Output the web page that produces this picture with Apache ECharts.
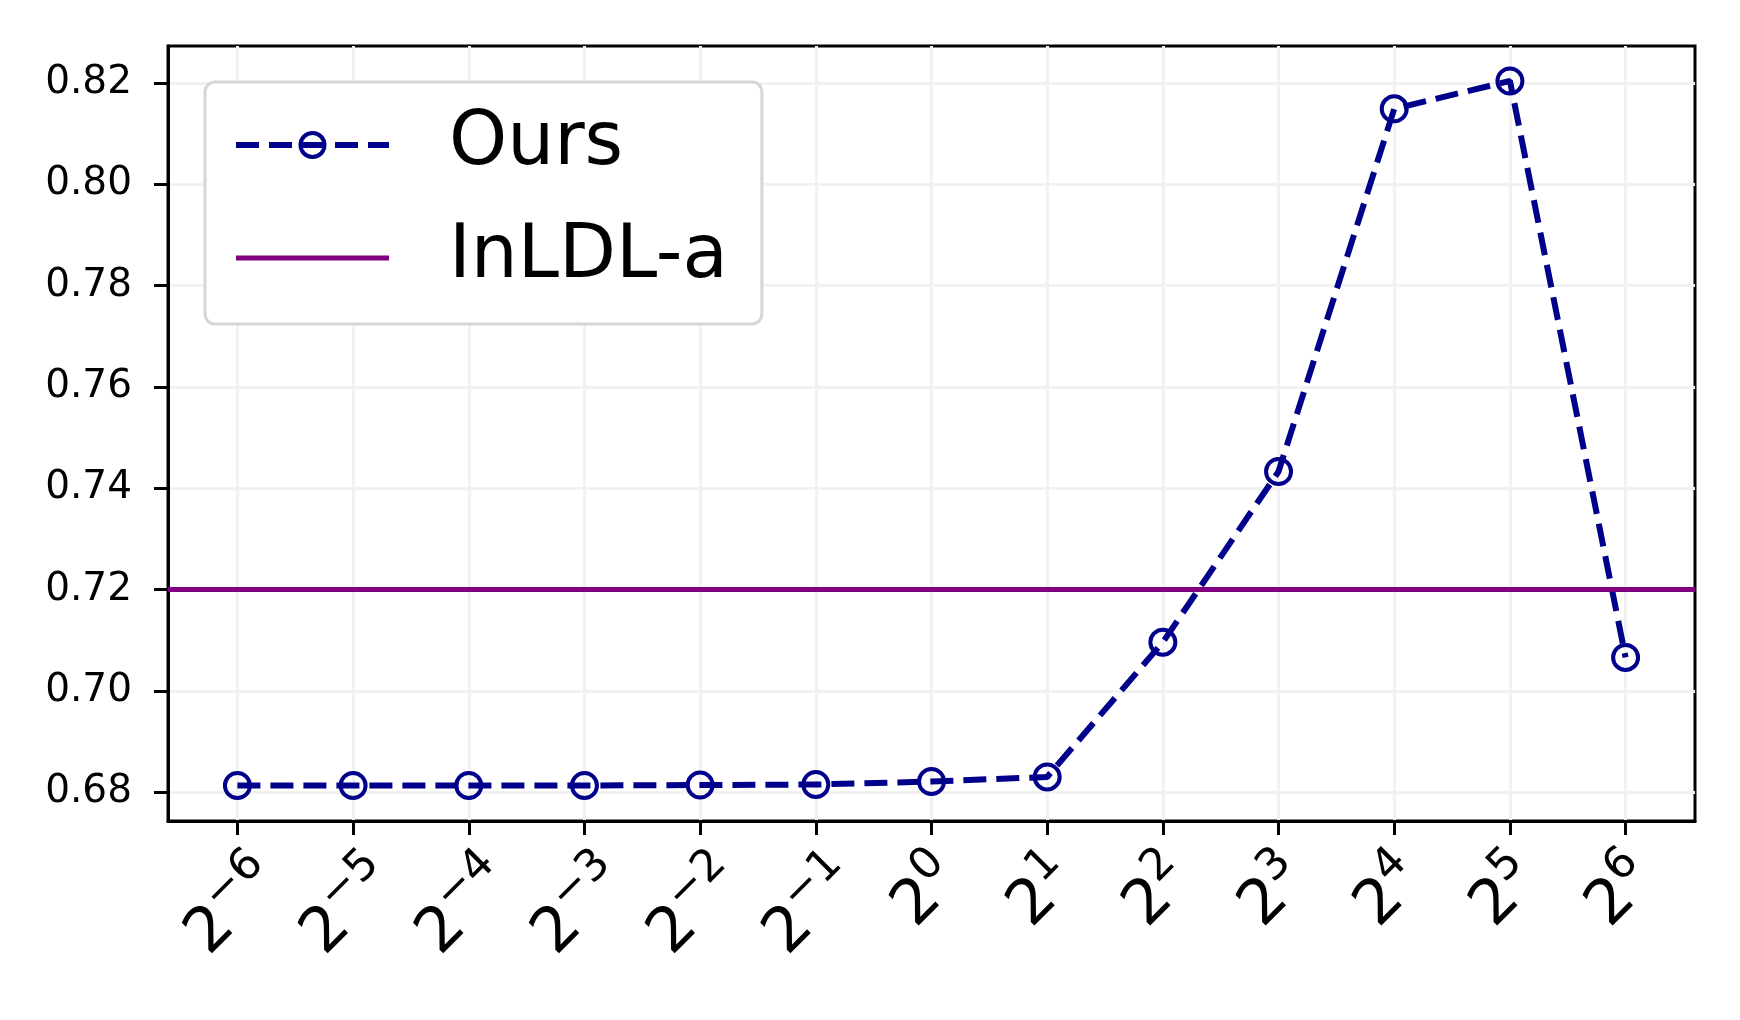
<!DOCTYPE html>
<html>
<head>
<meta charset="utf-8">
<script src="https://cdn.jsdelivr.net/npm/echarts@6/dist/echarts.min.js"></script>
<style>
  html, body { margin: 0; padding: 0; background: #fff; }
  #chart { width: 1740px; height: 1020px; }
</style>
</head>
<body>
<div id="chart"></div>
<script>
// x positions are 2^k, k = -6..6 (shown as exponents)
const exponents = ['−6', '−5', '−4', '−3', '−2', '−1', '0', '1', '2', '3', '4', '5', '6']
const oursValues = [0.6813, 0.6813, 0.6813, 0.6813, 0.6814, 0.6815, 0.6821, 0.6830, 0.7096, 0.7433, 0.8149, 0.8204, 0.7066]
const inldlValue = 0.72
const yTicks = [0.68, 0.70, 0.72, 0.74, 0.76, 0.78, 0.80, 0.82]
const xTicks = exponents.map((_, i) => i)

const navy = '#00008b'
const purple = '#800080'
const font = 'DejaVu Sans'

// rotated labels are centred like matplotlib's: spacer tokens pad the box
function expLabel(v) {
  const e = exponents[Math.round(v)]
  const spacer = e.startsWith('−') ? '{spn| }' : '{sp| }'
  return spacer + '{b|2}{s|' + e + '}'
}

const chart = echarts.init(document.getElementById('chart'))

chart.setOption({
  animation: false,
  backgroundColor: '#fff',
  grid: {
    left: 168, right: 45, top: 46, bottom: 199,
    show: true, borderColor: '#000', borderWidth: 3, backgroundColor: 'transparent'
  },
  legend: {
    orient: 'vertical',
    left: 205,
    top: 82,
    padding: [21, 34, 24, 28],
    itemWidth: 153,
    itemHeight: 30,
    itemGap: 29,
    backgroundColor: '#fff',
    borderColor: '#d6d6d6',
    borderWidth: 3,
    borderRadius: 10,
    textStyle: { fontFamily: font, fontSize: 74, color: '#000', lineHeight: 84, padding: [0, 0, 0, 55] },
    data: [
      { name: 'Ours', lineStyle: { width: 6 }, itemStyle: { borderWidth: 4 } },
      { name: 'InLDL-a', lineStyle: { width: 5 }, itemStyle: { opacity: 0 } }
    ]
  },
  xAxis: {
    type: 'value',
    min: -0.6,
    max: 12.6,
    axisLine: { show: true, onZero: false, lineStyle: { color: '#000', width: 3 } },
    axisTick: { show: true, customValues: xTicks, length: 14, lineStyle: { color: '#000', width: 3 } },
    splitLine: { show: true, lineStyle: { color: '#f2f2f2', width: 3 } },
    axisLabel: {
      customValues: xTicks,
      rotate: 45,
      align: 'center',
      verticalAlign: 'middle',
      margin: 91,
      color: '#000',
      fontFamily: font,
      formatter: expLabel,
      rich: {
        sp: { width: 21, lineHeight: 97, fontSize: 1 },
        spn: { width: 1, lineHeight: 76, fontSize: 1 },
        b: { fontFamily: font, fontSize: 62, height: 66, lineHeight: 66, verticalAlign: 'top', color: '#000' },
        s: { fontFamily: font, fontSize: 44, height: 26, lineHeight: 26, verticalAlign: 'top', color: '#000' }
      }
    }
  },
  yAxis: {
    type: 'value',
    min: 0.6743,
    max: 0.8273,
    axisLine: { show: true, onZero: false, lineStyle: { color: '#000', width: 3 } },
    axisTick: { show: true, customValues: yTicks, length: 14, lineStyle: { color: '#000', width: 3 } },
    splitLine: { show: true, lineStyle: { color: '#f2f2f2', width: 3 } },
    axisLabel: {
      customValues: yTicks,
      margin: 36,
      color: '#000',
      fontFamily: font,
      fontSize: 39,
      formatter: (v) => v.toFixed(2)
    }
  },
  series: [
    {
      name: 'Ours',
      type: 'line',
      z: 4,
      data: oursValues.map((v, i) => [i, v]),
      symbol: 'circle',
      symbolSize: 25,
      itemStyle: { color: 'rgba(0,0,0,0)', borderColor: navy, borderWidth: 4 },
      lineStyle: { color: navy, width: 6, type: [23, 10] }
    },
    {
      name: 'InLDL-a',
      type: 'line',
      z: 3,
      data: [],
      symbol: 'none',
      itemStyle: { color: purple },
      lineStyle: { color: purple, width: 5 },
      markLine: {
        silent: true,
        symbol: ['none', 'none'],
        label: { show: false },
        lineStyle: { color: purple, width: 5, type: 'solid' },
        data: [{ yAxis: inldlValue }]
      }
    }
  ]
})
</script>
</body>
</html>
